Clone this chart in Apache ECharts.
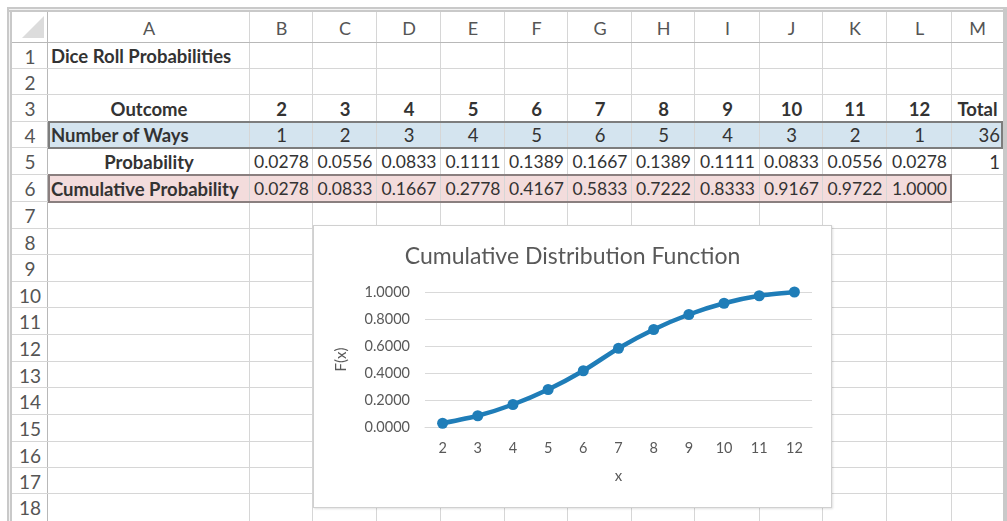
<!DOCTYPE html>
<html>
<head>
<meta charset="utf-8">
<script src="https://cdn.jsdelivr.net/npm/echarts@6/dist/echarts.min.js"></script>
<style>
  html, body { margin: 0; padding: 0; background: #ffffff; }
  body { width: 1007px; height: 521px; position: relative; overflow: hidden; font-family: Lato, "Open Sans", sans-serif; }
  .cell { position: absolute; box-sizing: border-box; white-space: nowrap; color: #333; font-size: 18.5px; display: flex; align-items: center; overflow: visible; }
  .line { position: absolute; background: #d6d6d6; }
  #chart { position: absolute; left: 313px; top: 225px; width: 519px; height: 283px; background: #fff; border: 1px solid #d0d0d0; box-sizing: border-box; box-shadow: 1px 1px 2px rgba(0,0,0,0.12); }
</style>
</head>
<body>
<div id="sheet"></div>
<div id="chart"></div>
<script>
// ---- data ----
const colLetters = ["A","B","C","D","E","F","G","H","I","J","K","L","M"];
const sheetTitle = "Dice Roll Probabilities";
const outcomes = [2, 3, 4, 5, 6, 7, 8, 9, 10, 11, 12];
const numberOfWays = [1, 2, 3, 4, 5, 6, 5, 4, 3, 2, 1];
const probability = ["0.0278","0.0556","0.0833","0.1111","0.1389","0.1667","0.1389","0.1111","0.0833","0.0556","0.0278"];
const cumulative = [0.0278, 0.0833, 0.1667, 0.2778, 0.4167, 0.5833, 0.7222, 0.8333, 0.9167, 0.9722, 1.0000];
const totalWays = 36;
const totalProb = 1;

// ---- layout ----
const colX = [12, 48, 250, 313, 377, 441, 505, 568, 632, 695, 760, 823, 887, 952, 1003];
const rowY = [12, 43, 69, 95, 122, 148, 175, 202, 229, 255, 282, 308, 335, 362, 388, 415, 442, 468, 494, 521];
const sheet = document.getElementById('sheet');

function el(cls, styles, text) {
  const d = document.createElement('div');
  d.className = cls;
  Object.assign(d.style, styles);
  if (text !== undefined) d.textContent = text;
  sheet.appendChild(d);
  return d;
}

// highlighted row backgrounds
el('cell', {left: colX[1]+'px', top: rowY[4]+'px', width: (colX[14]-colX[1])+'px', height: (rowY[5]-rowY[4])+'px', background: '#d4e4ef'});
el('cell', {left: colX[1]+'px', top: rowY[6]+'px', width: (colX[13]-colX[1])+'px', height: (rowY[7]-rowY[6])+'px', background: '#f3dcdc'});

// grid lines
for (let i = 1; i < colX.length - 1; i++) {
  el('line', {left: (colX[i]-1)+'px', top: rowY[0]+'px', width: '1px', height: (521-rowY[0])+'px', background: i === 1 ? '#b8b8b8' : '#d6d6d6'});
}
for (let j = 1; j < rowY.length - 1; j++) {
  el('line', {left: colX[0]+'px', top: (rowY[j]-1)+'px', width: (colX[14]-colX[0])+'px', height: '1px', background: j === 1 ? '#b8b8b8' : '#d6d6d6'});
}

// highlighted row borders
el('cell', {left: colX[1]+'px', top: (rowY[4]-1)+'px', width: (colX[14]-colX[1])+'px', height: (rowY[5]-rowY[4]+2)+'px', border: '2px solid #7d7d7d'});
el('cell', {left: colX[1]+'px', top: (rowY[6]-1)+'px', width: (colX[13]-colX[1])+'px', height: (rowY[7]-rowY[6]+2)+'px', border: '2px solid #8a7f7f'});

// outer frame
el('line', {left: '7px', top: '7px', width: '5px', height: '514px', background: '#c9c9c9'});
el('line', {left: '9px', top: '9px', width: '1px', height: '512px', background: '#f2f2f2'});
el('line', {left: '7px', top: '7px', width: '1000px', height: '5px', background: '#c9c9c9'});
el('line', {left: '9px', top: '9px', width: '998px', height: '1px', background: '#f2f2f2'});
el('line', {left: '1003px', top: '7px', width: '4px', height: '514px', background: '#c9c9c9'});
// corner triangle
el('cell', {left: '22px', top: '16px', width: '0', height: '0', borderLeft: '22px solid transparent', borderBottom: '22px solid #dcdcdc'});

// column header letters
colLetters.forEach((c, i) => {
  el('cell', {left: colX[i+1]+'px', top: rowY[0]+'px', width: (colX[i+2]-colX[i+1])+'px', height: (rowY[1]-rowY[0])+'px', justifyContent: 'center', color: '#555', fontSize: '18px'}, c);
});
// row numbers
for (let r = 1; r <= 18; r++) {
  el('cell', {left: colX[0]+'px', top: rowY[r]+'px', width: (colX[1]-colX[0])+'px', height: (rowY[r+1]-rowY[r])+'px', justifyContent: 'center', color: '#555', fontSize: '19px'}, String(r));
}

function put(row, col, text, align, bold, size) {
  const s = {left: colX[col+1]+'px', top: rowY[row]+'px', width: (colX[col+2]-colX[col+1])+'px', height: (rowY[row+1]-rowY[row])+'px', padding: '0 3px', fontWeight: bold ? '700' : '400', color: '#333'};
  if (size) s.fontSize = size + 'px';
  s.justifyContent = align === 'left' ? 'flex-start' : (align === 'right' ? 'flex-end' : 'center');
  el('cell', s, text);
}

put(1, 0, sheetTitle, 'left', true);
put(3, 0, 'Outcome', 'center', true);
put(4, 0, 'Number of Ways', 'left', true);
put(5, 0, 'Probability', 'center', true);
put(6, 0, 'Cumulative Probability', 'left', true);
outcomes.forEach((v, i) => put(3, i+1, String(v), 'center', true));
numberOfWays.forEach((v, i) => put(4, i+1, String(v), 'center', false));
probability.forEach((v, i) => put(5, i+1, v, 'center', false, 17.5));
cumulative.forEach((v, i) => put(6, i+1, v.toFixed(4), 'center', false, 17.5));
put(3, 12, 'Total', 'center', true);
put(4, 12, String(totalWays), 'right', false);
put(5, 12, String(totalProb), 'right', false);

// ---- chart ----
const chart = echarts.init(document.getElementById('chart'), null, {renderer: 'canvas'});
chart.setOption({
  animation: false,
  textStyle: {fontFamily: 'Lato, "Open Sans", sans-serif'},
  title: {
    text: 'Cumulative Distribution Function',
    left: 'center', top: 14,
    textStyle: {fontSize: 23, fontWeight: 'normal', color: '#595959', fontFamily: 'Lato, "Open Sans", sans-serif'}
  },
  grid: {left: 111, right: 19, top: 66, bottom: 80},
  xAxis: {
    type: 'category',
    data: outcomes.map(String),
    boundaryGap: true,
    name: 'x', nameLocation: 'middle', nameGap: 42,
    nameTextStyle: {color: '#595959', fontSize: 15},
    axisLine: {show: true, lineStyle: {color: '#d9d9d9', width: 1}},
    axisTick: {show: false},
    axisLabel: {color: '#595959', fontSize: 14.5, margin: 14}
  },
  yAxis: {
    type: 'value', min: 0, max: 1, interval: 0.2,
    name: 'F(x)', nameLocation: 'middle', nameGap: 76, nameRotate: 90,
    nameTextStyle: {color: '#595959', fontSize: 15},
    axisLine: {show: false}, axisTick: {show: false},
    axisLabel: {color: '#595959', fontSize: 14.5, margin: 15, formatter: v => v.toFixed(4)},
    splitLine: {lineStyle: {color: '#d9d9d9', width: 1}}
  },
  series: [{
    type: 'line',
    data: cumulative,
    smooth: 0.2,
    symbol: 'circle', symbolSize: 11,
    lineStyle: {color: '#1f7db8', width: 4.5},
    itemStyle: {color: '#1f7db8'}
  }]
});
</script>
</body>
</html>
